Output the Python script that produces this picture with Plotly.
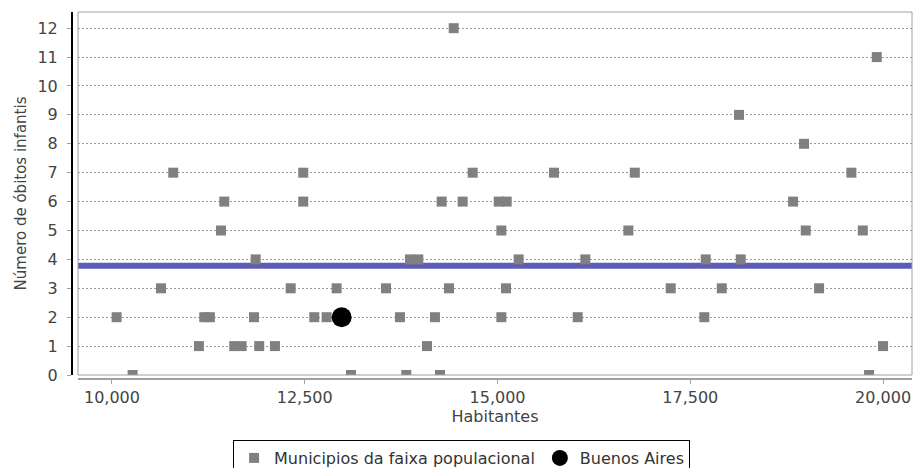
import plotly.graph_objects as go

# Municipalities in the population bracket: (inhabitants, infant deaths)
mun_habitantes = [
    10795, 12481, 11457, 12481, 11414, 11864, 10636, 12318,
    10061, 11197, 11270, 11842, 12624, 12784,
    11128, 11586, 11682, 11910, 12114, 10268,
    14432, 14678, 15733, 14276, 14548, 15016, 15119, 15050,
    13865, 13973, 15274, 16139, 12914, 13554, 14371, 15110,
    13735, 14189, 15050, 16040, 14086, 13100, 13817, 14254,
    19918, 18132, 18975, 16780, 19589, 18833, 16697, 18997, 19737,
    17700, 18154, 17246, 17908, 19170, 17682, 20000, 19818,
]
mun_obitos = [
    7, 7, 6, 6, 5, 4, 3, 3,
    2, 2, 2, 2, 2, 2,
    1, 1, 1, 1, 1, 0,
    12, 7, 7, 6, 6, 6, 6, 5,
    4, 4, 4, 4, 3, 3, 3, 3,
    2, 2, 2, 2, 1, 0, 0, 0,
    11, 9, 8, 7, 7, 6, 5, 5, 5,
    4, 4, 3, 3, 3, 2, 1, 0,
]

# Highlighted municipality
ba_habitantes = [12979]
ba_obitos = [2]

# Mean line of the bracket
media_obitos = 3.78

x_tickvals = [10000, 12500, 15000, 17500, 20000]
y_tickvals = list(range(0, 13))

FONT = "DejaVu Sans"
TXT = "#444444"
FS = 16

fig = go.Figure()
fig.add_trace(go.Scatter(
    x=mun_habitantes, y=mun_obitos, mode="markers",
    name="Municipios da faixa populacional",
    marker=dict(symbol="square", size=10, color="#808080", line=dict(width=0)),
))
fig.add_trace(go.Scatter(
    x=ba_habitantes, y=ba_obitos, mode="markers",
    name="Buenos Aires",
    marker=dict(symbol="circle", size=20, color="#000000", line=dict(width=0)),
))

fig.add_shape(type="line", xref="x domain", yref="y", x0=0, x1=1,
              y0=media_obitos, y1=media_obitos,
              line=dict(color="#5C5CB6", width=6), layer="below")
# plot border
fig.add_shape(type="rect", xref="x domain", yref="y domain", x0=0, x1=1, y0=0, y1=1,
              line=dict(color="#A0A0A0", width=1), layer="above")

fig.update_layout(
    width=914, height=468,
    margin=dict(l=72, r=2, t=12, b=89, autoexpand=False),
    paper_bgcolor="white", plot_bgcolor="white",
    font=dict(family=FONT, size=FS, color=TXT),
    showlegend=True,
    legend=dict(
        orientation="h", xref="container", yref="container",
        x=0.505, xanchor="center", y=1 - 440 / 468, yanchor="top",
        bordercolor="#000000", borderwidth=1, bgcolor="white",
        font=dict(family=FONT, size=FS, color="#333333"),
        itemsizing="trace", itemwidth=30, tracegroupgap=0,
    ),
    xaxis=dict(
        domain=[6 / 840, 1], range=[9560, 20375],
        anchor="free", position=0, automargin=False,
        tickvals=x_tickvals, tickformat=",d",
        showgrid=False, zeroline=False,
        showline=True, linecolor="#A0A0A0", linewidth=2,
        ticks="outside", ticklen=4, tickcolor="#A0A0A0",
        tickfont=dict(family=FONT, size=FS, color=TXT),
        title=dict(text="Habitantes", font=dict(family=FONT, size=FS, color=TXT), standoff=4),
    ),
    yaxis=dict(
        domain=[4 / 367, 1], range=[0, 12.56],
        anchor="free", position=0, automargin=False,
        tickvals=y_tickvals,
        showgrid=True, gridcolor="#9A9A9A", gridwidth=1, griddash="2px,2px",
        zeroline=False,
        showline=True, linecolor="#000000", linewidth=2,
        ticks="outside", ticklen=4, tickcolor="#A0A0A0",
        ticklabelstandoff=6,
        tickfont=dict(family=FONT, size=FS, color=TXT),
        title=dict(text="Número de óbitos infantis", font=dict(family=FONT, size=FS - 1, color=TXT), standoff=6),
    ),
)

fig.write_html("out.html", config={"displayModeBar": False},
               post_script="document.body.style.margin='0';")
